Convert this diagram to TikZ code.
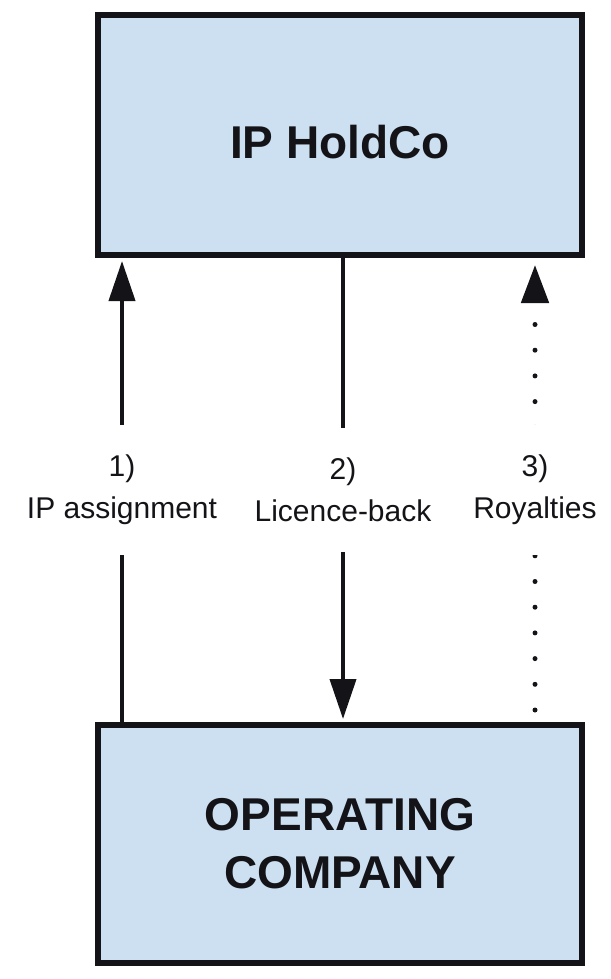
\documentclass[tikz,border=0pt]{standalone}
\usepackage{fontspec}
\setmainfont{Liberation Sans}
\usetikzlibrary{arrows.meta}
\definecolor{boxfill}{RGB}{204,224,242}
\definecolor{ink}{RGB}{20,20,24}
\begin{document}
\begin{tikzpicture}[x=1pt,y=-1pt,
  entity/.style={draw=ink, line width=6pt, fill=boxfill, minimum width=484pt,
    inner sep=0pt, align=center, text=ink,
    font=\fontsize{46}{58}\selectfont\bfseries},
  flow/.style={draw=ink, line width=4pt, -{Triangle[length=40pt,width=26pt]}},
  dotflow/.style={draw=ink, line width=5pt, line cap=round,
    dash pattern=on 0pt off 25.7pt, dash phase=13.7pt,
    -{Triangle[length=38pt,width=27pt]}},
  tag/.style={fill=white, inner xsep=3pt, inner ysep=30pt, align=center,
    text=ink, font=\fontsize{30}{42}\selectfont}]

\useasboundingbox (0,0) rectangle (610,979);

% the two companies
\node[entity, minimum height=240pt, text height=48pt] (hold) at (340,135) {IP HoldCo};
\node[entity, minimum height=238pt] (opco) at (340,844) {OPERATING\\COMPANY};

% x positions of the three flows
\coordinate (xl) at (122,0);
\coordinate (xm) at (343,0);
\coordinate (xr) at (535,0);

% 1) assignment of the IP up to the holding company
\draw[flow, shorten >=3pt] (opco.north -| xl) -- node[tag] {1)\\IP assignment} (hold.south -| xl);
% 2) licence granted back down to the operating company
\draw[flow, shorten >=3pt] (hold.south -| xm) -- node[tag] {2)\\Licence-back} (opco.north -| xm);
% 3) royalties paid up
\draw[dotflow, shorten >=7pt] (opco.north -| xr) -- node[tag] {3)\\Royalties} (hold.south -| xr);
\end{tikzpicture}
\end{document}
